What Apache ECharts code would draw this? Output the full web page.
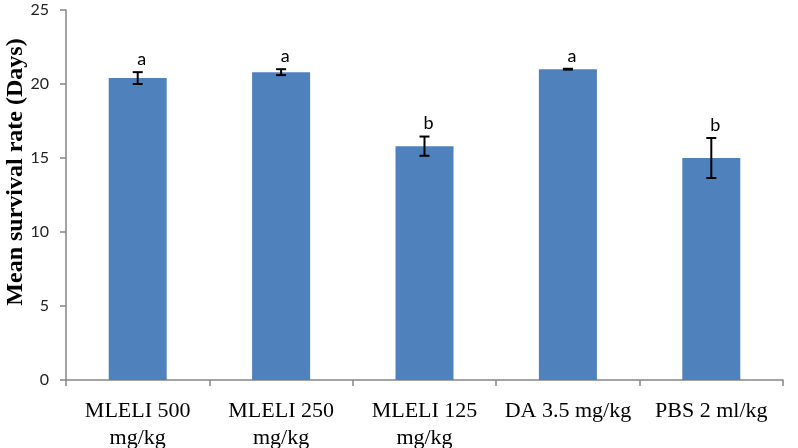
<!DOCTYPE html>
<html><head><meta charset="utf-8">
<script src="https://cdn.jsdelivr.net/npm/echarts@6/dist/echarts.min.js"></script>
<style>html,body{margin:0;padding:0;background:#fff}#c{width:798px;height:448px}</style>
</head><body><div id="c"></div>
<script>
const categories = ['MLELI 500\nmg/kg', 'MLELI 250\nmg/kg', 'MLELI 125\nmg/kg', 'DA 3.5 mg/kg', 'PBS 2 ml/kg'];
const meanValues = [20.4, 20.8, 15.8, 21.0, 15.0];
const errorValues = [0.4, 0.2, 0.65, 0.03, 1.35];
const letters = ['a', 'a', 'b', 'a', 'b'];
const yTicks = [0, 5, 10, 15, 20, 25];
const yAxisTitle = 'Mean survival rate (Days)';

const chart = echarts.init(document.getElementById('c'));
const errData = meanValues.map((v, i) => [i, v - errorValues[i], v + errorValues[i], letters[i]]);
chart.setOption({
  animation: false,
  grid: {left: 66, right: 15, top: 10, bottom: 68, containLabel: false, outerBoundsMode: 'none'},
  graphic: [{
    type: 'text', x: 16, y: 172, rotation: Math.PI / 2,
    style: {text: yAxisTitle, fontFamily: 'Liberation Serif', fontWeight: 'bold', fontSize: 24, fill: '#000', textAlign: 'center', textVerticalAlign: 'middle'}
  }],
  xAxis: {
    type: 'category', data: categories,
    axisLine: {lineStyle: {color: '#868686', width: 1.5}},
    axisTick: {show: true, length: 6, alignWithLabel: false, lineStyle: {color: '#868686', width: 1.5}},
    axisLabel: {color: '#000', fontFamily: 'Liberation Serif', fontSize: 22, lineHeight: 27, margin: 18, interval: 0}
  },
  yAxis: {
    type: 'value', min: yTicks[0], max: yTicks[yTicks.length - 1], interval: 5,
    axisLine: {show: true, lineStyle: {color: '#868686', width: 1.5}},
    axisTick: {show: true, length: 6, lineStyle: {color: '#868686', width: 1.5}},
    splitLine: {show: false},
    axisLabel: {color: '#222', fontFamily: 'Lato', fontSize: 16, margin: 17}
  },
  series: [{
    type: 'bar', data: meanValues, barWidth: 58,
    itemStyle: {color: '#4f81bd'}
  }, {
    type: 'custom', data: errData, z: 10,
    renderItem: function (params, api) {
      const x = api.coord([api.value(0), 0])[0];
      const lo = api.coord([api.value(0), api.value(1)])[1];
      const hi = api.coord([api.value(0), api.value(2)])[1];
      const cap = 5;
      const st = {stroke: '#000', lineWidth: 2};
      return {type: 'group', children: [
        {type: 'line', shape: {x1: x, y1: hi, x2: x, y2: lo}, style: st},
        {type: 'line', shape: {x1: x - cap, y1: hi, x2: x + cap, y2: hi}, style: st},
        {type: 'line', shape: {x1: x - cap, y1: lo, x2: x + cap, y2: lo}, style: st},
        {type: 'text', x: x + 4, y: hi - 4, style: {text: letters[params.dataIndex], fontFamily: 'Lato', fontSize: 18, fill: '#000', textAlign: 'center', textVerticalAlign: 'bottom'}}
      ]};
    }
  }]
});
</script></body></html>
